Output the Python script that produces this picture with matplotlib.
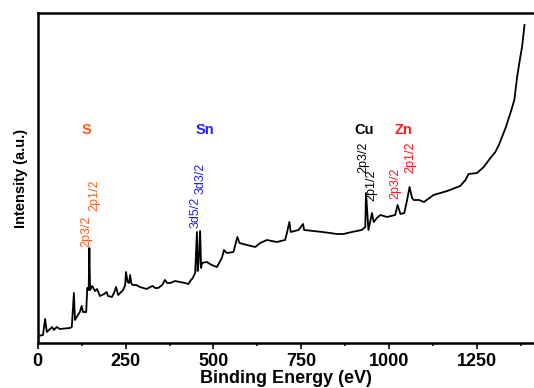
import matplotlib
matplotlib.use('Agg')
import matplotlib.pyplot as plt
from matplotlib.ticker import MultipleLocator

plt.rcParams['font.family'] = ['Liberation Sans', 'DejaVu Sans']

# XPS survey spectrum (intensity in a.u.)
energy = [1, 15, 21, 26, 41, 46, 54, 63, 92, 97, 103, 106, 109, 120, 125, 129,
          138, 141, 145, 147, 149, 155, 163, 169, 177, 189, 196, 200, 211, 217,
          223, 229, 243, 249, 251, 256, 260, 263, 266, 270, 280, 291, 300, 310,
          320, 327, 334, 343, 354, 362, 368, 377, 391, 405, 419, 429, 434, 441,
          445, 448, 453, 455, 458, 462, 465, 467, 481, 495, 510, 524, 530, 538,
          557, 568, 574, 595, 619, 633, 652, 680, 704, 709, 716, 720, 742, 755,
          758, 785, 810, 832, 850, 870, 894, 922, 932, 934, 941, 951, 956, 965,
          975, 994, 1017, 1024, 1032, 1043, 1051, 1058, 1065, 1070, 1085, 1099,
          1126, 1145, 1165, 1202, 1217, 1226, 1250, 1269, 1288, 1302, 1312,
          1321, 1331, 1345, 1356, 1364, 1373, 1378, 1385]
intensity = [7, 8, 24, 11, 16, 13, 16, 14, 15, 16, 50, 23, 25, 31, 37, 31,
             31, 55, 53, 95, 53, 57, 52, 54, 47, 49, 51, 47, 46, 50,
             56, 48, 53, 58, 71, 61, 60, 68, 60, 58, 58, 56, 55, 54,
             56, 57, 55, 55, 58, 63, 60, 60, 62, 61, 60, 59, 62, 65,
             68, 70, 111, 72, 81, 112, 75, 80, 81, 78, 76, 85, 93, 90,
             91, 106, 100, 98, 96, 100, 103, 101, 103, 110, 121, 111, 113, 119,
             113, 112, 111, 110, 109, 109, 111, 113, 116, 150, 113, 130, 121, 125,
             128, 126, 128, 138, 129, 130, 143, 156, 145, 143, 143, 141,
             148, 150, 152, 157, 163, 169, 170, 176, 185, 191, 198,
             206, 215, 230, 243, 266, 286, 296, 318]

elements = ['S', 'Sn', 'Cu', 'Zn']
element_x = [140, 477, 929, 1040]
element_colors = ['#ff5a1a', '#1f1fff', 'black', '#ff1a1a']

peak_labels = ['2p3/2', '2p1/2', '3d5/2', '3d3/2', '2p3/2', '2p1/2', '2p3/2', '2p1/2']
peak_x = [138, 160, 448, 462, 926, 949, 1017, 1060]
peak_y = [112, 148, 131, 165, 186, 158, 160, 186]
peak_colors = ['#ff5a1a', '#ff5a1a', '#1f1fff', '#1f1fff', 'black', 'black', '#ff1a1a', '#ff1a1a']

fig = plt.figure(figsize=(5.34, 3.88), dpi=100)
ax = fig.add_axes([0.0706, 0.116, 0.9294, 0.8505])

ax.plot(energy, intensity, color='black', linewidth=1.3)

for name, x, c in zip(elements, element_x, element_colors):
    ax.text(x, 213, name, color=c, fontsize=10.5, fontweight='bold',
            ha='center', va='center')

for lab, x, y, c in zip(peak_labels, peak_x, peak_y, peak_colors):
    ax.text(x, y, lab, color=c, fontsize=9, rotation=90,
            ha='center', va='center')

ax.set_xlim(0, 1412)
ax.set_ylim(0, 330)
ax.xaxis.set_major_locator(MultipleLocator(250))
ax.xaxis.set_minor_locator(MultipleLocator(125))
ax.set_yticks([])
ax.spines['right'].set_visible(False)
for s in ['left', 'top', 'bottom']:
    ax.spines[s].set_linewidth(1.8)
ax.tick_params(axis='x', which='major', direction='out', length=4.5, width=1.2,
               labelsize=13, pad=3)
ax.tick_params(axis='x', which='minor', direction='out', length=2.5, width=1.2)
for t in ax.get_xticklabels():
    t.set_fontweight('bold')

ax.set_xlabel('Binding Energy (eV)', fontsize=13, fontweight='bold', labelpad=0)
ax.set_ylabel('Intensity (a.u.)', fontsize=10.5, fontweight='bold', labelpad=7)

fig.savefig('out.png', dpi=100, facecolor='white')
